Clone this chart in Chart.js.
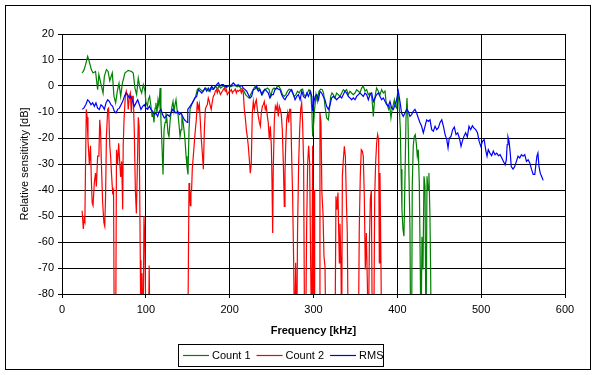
<!DOCTYPE html>
<html>
<head>
<meta charset="utf-8">
<script src="https://cdn.jsdelivr.net/npm/chart.js@4.4.1/dist/chart.umd.min.js"></script>
<style>
html,body{margin:0;padding:0;background:#fff;}
#wrap{width:594px;height:375px;position:relative;}
</style>
</head>
<body>
<div id="wrap"><canvas id="c" width="594" height="375"></canvas></div>
<script>
// ---- DATA ----
const seriesNames = ["Count 1", "Count 2", "RMS"];
const xTickStep = 100;   // kHz
const yTickStep = 10;    // dB

// Count 1 (green)
const count1Freq = [24,26,28,30.6,32,35,37,40,42.5,44,47,49,50.5,53,55,57,60,62,64,66,68,70,72,75,79,83,85,87,89,91,93,95,97,99,100,101.8,103,104.5,105.8,107.4,108.5,109.7,111,112,113.3,114.5,115.7,117,118,119.3,120.5,121.7,123,124,125.2,126.4,127.6,128.8,130,131.2,132.4,133.6,134.8,136,137.2,138.4,139.6,140.8,142,143,144.3,145.5,146.7,148,149.1,150.3,151.5,152.7,155.5,157.5,159.4,161.4,163.4,165.4,167.4,169.4,171.4,173.4,175.3,177.3,179.3,181.3,183.3,185.3,187.3,189.2,191.2,193.2,195.2,197.2,199.2,201.2,203.2,205.1,207.1,209.1,211.1,213,215,217,219,221,223,225,227,229,231,233,235,237,239,241,243,245,247,249,251,253,255,257,259,261,263,265,267,269,271,273,275,277,279,281,283,285,287,288.6,290.6,292.6,294.6,296.6,298,299,300,301,303,304.5,306.5,308.5,310.5,312,313.7,315.7,317.7,319,320.5,322,323.6,325.6,327.6,329.6,331.6,333.6,335.6,337.5,339.5,341.5,343.5,345.5,347.5,349.5,351.5,353.5,355.4,357.4,359.4,361.4,363.4,365.4,367.4,369.4,370.5,371.3,372.7,374.1,375.3,377.3,379.3,381.3,383.3,385.3,386.5,388,389.6,391,392.4,393.8,395.2,396.4,397.6,399.2,400.4,401.6,402.4,403.6,404.4,405.5,406.7,407.9,409.1,410.3,411.5,412.7,413.9,415.1,415.9,417,417.8,419,420.2,421.4,422.6,423.8,425,426.2,427.4,428.2,429.4,430.6,431.8,433,434.2,435.4,436.6,437.7,438.9,439.7,440.5];
const count1Db = [5,6,8,11.4,10,6.3,5,5.6,-1.4,4.4,0,-2.7,3.7,6.3,5.6,2,5,-4,-6.5,-2,1,-4,1,5,6,5.6,5,-0.8,-3.3,3,-0.8,-2.7,0.5,-2,-6,-7.8,-5.3,-4,-7,-11.7,-10.4,-14,-8.5,-6.5,-10.4,-5.3,-7.8,-0.8,-13,-23.2,-34,-16.8,-14,-10.4,-13,-18,-19.4,-14,-10.4,-7.8,-6,-9.7,-7.2,-5.3,-9,-11,-14.9,-19.4,-16.8,-11.7,-13.6,-16.8,-20.6,-27,-31,-34,-17,-9,-6.5,-5.3,-4,-1.4,-0.8,-1.4,-2,-1.4,-0.8,-1.4,-2,-0.8,-1.4,-1.2,0,-1.2,0,-0.8,-0.3,0,-0.8,-0.3,0,-0.3,0,0.2,0,-0.3,0,-0.8,-1.2,-2,-3.3,-4,-4.6,-3.3,-2,-0.8,0,-1.4,-0.8,-2,-3.3,-2,-1.2,-0.8,-1.4,-4,-1.4,-0.8,-1.2,0,-0.3,-1.4,-3.3,-4,-3.3,-2,-1.2,-1.4,-2.7,-4,-3.3,-2,-2.7,-1.4,-1.2,-3.3,-4,-2.7,-1.4,-2,-9,-19.4,-15.5,-10,-3.3,-5.9,-2,-1.2,-1.4,-2.7,-7.8,-12.3,-13,-9,-4,-2.7,-3.3,-4.6,-2.7,-3.3,-4,-2.7,-1.4,-2,-1.4,-3.3,-2,-2.7,-3.3,-2.7,-1.4,-2,-2.7,-0.8,0,-2,-1.4,-3.3,-2.7,-4,-7.8,-11.7,-5.9,-2.7,-0.8,-2,-3.3,-1.4,-2.7,-2,-6,-7.2,-9,-7.8,-12.3,-9,-7.2,-5.3,-7.8,-8.5,-2,-5.3,-9,-16.8,-32,-47.6,-55,-57.8,-36,-13,-4.6,-13,-34.7,-55,-100,-100,-38.6,-23,-19.4,-18.7,-22,-27,-24.5,-37.3,-70.6,-100,-58,-70.6,-34.7,-38.6,-100,-34.7,-40,-33.5,-50,-70.6,-100];

// Count 2 (red)  (-100 = below the axis floor)
const count2Freq = [24,25.4,26.5,27.3,28,29,30,31,32.6,34,35,36,37,38.6,40,41,42.5,44,45,46,47,48.5,50,51,52,53,54.5,55.6,57,58,59,60.4,61.5,62.4,64,65,66.3,67.6,68.8,70,71.2,72.4,73,74,75.5,76.7,78,79,80.3,81.5,82.7,83.9,85,86.2,87.5,88.7,90,91,92,93.4,94.2,95.4,96.6,97.8,99,100.2,103,104,105,150,151.5,152.3,153,153.8,154.6,155.4,156.6,157.8,159,160.2,161.4,162.6,163.8,165,166.2,167.4,168.6,169.8,171,172.2,173.3,174.5,175.7,177,178,179.3,180.5,181.7,182.9,184.1,185.3,186.5,187.7,189,190,191.2,192.4,193.6,194.8,196,197.2,198.4,199.6,200.8,202,203.2,204.4,205.6,206.7,208,209.1,210.3,211.5,212.7,213.9,215.1,216.3,217.5,218.7,219.9,221,222.2,223.4,224.6,225.8,227,228.2,229.4,230.6,231.8,233,234.2,235.4,236.6,237.7,239,240.1,241.3,242.5,243.7,245,246,247.3,248.5,249.7,250.5,251.3,252,253.3,254.5,255.7,256.8,258,259.2,260.4,261.6,262.8,264,265.2,266,266.8,268,269.2,270.4,271.5,272.8,274,275.1,276.3,277.5,278.7,280,281,282.3,283.5,284.7,285.9,287,288.2,289.4,290.6,291.8,293,294.2,295.4,296.6,297.8,299,299.8,300.6,301.4,307,307.7,308.9,310,311.3,312.5,313.7,314.9,325.6,326.8,328,329.2,330,330.8,331.6,332.8,333.6,334.4,335.6,336.8,338,339.1,340.3,341.5,353.5,354.6,355.8,357,358.2,359.4,360.6,361.8,363,364.2,365.4,366.6,367.8,369,370.2,371.8,373,374.1,375.3,376.5,377.7,378.5,379.3,380.5,381.3];
const count2Db = [-48,-55,-51,-52,-32,-9,-12,-21,-30,-23,-36,-45,-46,-37,-33.5,-38.6,-27,-27,-13,-17,-30,-45,-52.7,-54,-42,-19.4,-9,-8.5,-23,-27,-33.5,-41,-40,-100,-100,-24.5,-30,-22,-29,-35,-29,-47.5,-23,-13,-4,-2,-4,-9,-4,-2.7,-10.4,-4,-4,-17,-40,-49,-29.6,-12,-15.5,-67,-100,-72,-100,-50,-62,-100,-100,-69,-100,-100,-37.3,-41,-46,-41,-40,-32,-27,-22,-17,-13,-6,-9,-7,-13.6,-20.6,-25.8,-32,-17,-9,-7.8,-7.2,-4.6,-5.9,-7.8,-9,-6,-4,-3.3,-2,-1.4,-2.7,-1.4,-2,-3.3,-2.7,-2,-1.4,-0.8,-2,-1.4,-3.3,-2.7,-2,-2,-1.4,-2.7,-2,-1.7,-1.2,-2.7,-1.7,-2,-1.7,-1.4,-2.7,-1.4,-2.7,-9,-12.3,-16.8,-19.4,-23,-28,-33.5,-29.6,-10.4,-6,-9,-6.5,-5.3,-9,-11.7,-14,-15.5,-10.4,-7.8,-7.2,-6,-9,-7.8,-11.7,-14,-20.6,-15.5,-23,-37,-56.5,-32,-13,-7.8,-9,-7.2,-11.7,-7.8,-9,-11,-16.8,-29.6,-46.3,-33.5,-23,-13,-10.4,-14,-9,-9,-28,-42.4,-66.8,-100,-68,-100,-55,-29.6,-16.8,-9,-6.5,-14,-29.6,-100,-100,-55,-30,-23,-29.6,-68,-100,-23,-100,-40,-100,-100,-10.4,-14,-41,-48.8,-65.5,-69.4,-100,-100,-42.4,-47.6,-41,-55,-68,-53,-69.4,-100,-34.7,-28.3,-23.2,-27,-42.4,-56.5,-100,-100,-55,-34.7,-24.5,-25,-27,-42.4,-70.6,-56.5,-75,-100,-62,-43.7,-40,-100,-100,-42.4,-29.6,-22,-18.7,-20.6,-68,-33.5,-69.4,-100];

// RMS (blue)
const rmsFreq = [24,26,28.6,30.6,32.6,34.6,36.6,38.6,40.5,42.5,44.5,46.5,48.5,50.5,52.5,54.5,56.4,58.4,60.4,62.4,64.4,66.4,68.4,70.4,72.4,74.4,76.3,78.3,80.3,82.3,84.3,86.3,88.3,90.3,92.3,94.2,96.2,98.2,100.2,102.2,104.2,106.2,108.2,110.1,112.1,114.1,116.1,118.1,120,122,124,126,128,130,132,134,136,138,140,142,144,146,148,149.5,150,152.7,155.5,158.6,160.6,162.6,164.6,166.6,168.6,170.6,172.6,174.5,176.5,178.5,180.5,182.5,184.5,186.5,188.5,190.4,192.4,194.4,196.4,198.4,200.4,202.4,204.4,206.3,208.3,210.3,212.3,214.3,216.3,218.3,220.3,222.2,224.2,226.2,228.2,230.2,232.2,234.2,236.1,238.1,240.1,242.1,244.1,246.1,248,250,252,254,256,258,260,262,264,266,268,270,272,274,276,278,280,282,284,286,288,290,292,294,296,298,299,300.6,302,304,306,307.7,309.7,311.7,313.7,315.7,317.7,319.7,321.6,323.6,325.6,327.6,329.6,331.6,333.6,335.6,337.5,339.5,341.5,343.5,345.5,347.5,349.5,351.5,353.5,355.4,357.4,359.4,361.4,363.4,365.4,367.4,369.4,371.3,373.3,375.3,377.3,379.3,381.3,383.3,385.3,387.3,389.3,391.2,393.2,395.2,397.2,399.2,401.2,403.1,405.1,407.1,409.1,411.1,413,415,417,419,421,423,425,427,429,431,433,435,437,439,441,443,445,447,449,451,453,455,457,459,460.5,462,464,466,468,470,472,474,476,477.5,479.4,481.5,483.5,485.5,487.5,489.5,491.5,493.5,495.6,497.6,499.6,501.6,503.6,505.6,507,508.5,510.5,512.5,514.5,516.5,518.5,520.6,522.6,524.6,526.6,528.6,530,531,532,533.3,534.7,535.9,538,540,542,544,546,548,550,552,554,556,558,560,562,564,565,566.5,567.7,569,570.5,572,574];
const rmsDb = [-9,-8.5,-7,-5.3,-6,-7.2,-6.5,-7.8,-6.5,-8.5,-9,-7.2,-7.8,-9,-6.5,-5.3,-5.9,-7.2,-7.8,-9.7,-10.4,-9,-8.5,-7.2,-5.9,-4,-2.7,-3.3,-4.6,-4,-5.9,-7.8,-6.5,-5.3,-7.2,-9,-7.8,-7.2,-8.5,-9,-7.8,-9,-9.7,-11,-10.4,-11.7,-9.7,-9,-11,-12.3,-11.7,-11,-11.7,-10.4,-9,-9.7,-10.4,-9.7,-11,-10.4,-11.7,-13,-13.6,-14,-9,-7.8,-6.5,-4.6,-4,-1.4,-2,-2.7,-2,-0.8,-2,-0.8,-2,0,-1.2,-0.3,0.5,1.2,0,0.5,0.5,-0.1,-0.3,0.2,0,0.5,1.2,0.5,0.2,0.5,-0.1,0.2,-0.8,-1.4,-2,-3.3,-4.6,-4,-1.4,-1.2,0,-2,-1.4,-3.3,-2,-1.2,-2,-2.7,-4.6,-3.3,-3.3,-1.4,-0.8,-1.2,-1.4,-3.3,-4.6,-5.3,-4,-3.3,-2,-1.4,-3.3,-5.3,-4,-3.3,-5.3,-2,-4,-4.6,-2.7,-4,-2,-4,-9.7,-5.9,-4,-3.3,-5.3,-2,-2.7,-4,-5.3,-7.8,-9,-7.2,-4.6,-4,-4.6,-5.3,-4.6,-4,-4.6,-3.3,-2,-2.7,-4,-4.6,-5.3,-4.6,-5.3,-4,-3.3,-2.7,-3.3,-4,-2.7,-3.3,-5.3,-3.3,-2.7,-6,-4.6,-3.3,-2.7,-4,-5.3,-4.6,-5.9,-7.2,-7.8,-5.9,-8.5,-9,-7.2,-5.3,-2,-5.9,-10.4,-11.7,-10.4,-9,-9.7,-11.7,-11,-9.7,-9,-10.4,-12.3,-14,-15.5,-18,-15.5,-13,-13.6,-13,-16.8,-17.4,-15.5,-16.8,-16,-14,-13,-15.5,-18.7,-20.6,-23.8,-20,-19.4,-16.8,-15.8,-18.7,-18,-20,-23.2,-21.3,-19.4,-18,-19.6,-15.5,-16.8,-15.3,-16.2,-16.8,-18,-21.3,-23.2,-21.3,-20.6,-25,-27,-24.5,-25.8,-26.8,-25,-26.4,-25.8,-26.8,-26.4,-27.7,-29,-30.3,-28.4,-22.6,-19.6,-21.3,-25.8,-31,-32,-31,-29,-27,-27.7,-26.4,-27,-26.4,-29,-28.4,-29.6,-32,-34,-34,-31,-27,-25.8,-31,-33.5,-34.7,-36.3];

const seriesFreq = [count1Freq, count2Freq, rmsFreq];
const seriesDb = [count1Db, count2Db, rmsDb];
const seriesColors = ["#008000", "#ff0000", "#0000ff"];

// ---- CHART ----
const FONT = "'Liberation Sans', Arial, sans-serif";

const frame = {
  id: 'frame',
  beforeDraw(chart) {
    const ctx = chart.ctx;
    ctx.save();
    ctx.fillStyle = '#fff';
    ctx.fillRect(0, 0, chart.width, chart.height);
    ctx.strokeStyle = '#000';
    ctx.lineWidth = 1;
    ctx.strokeRect(5.5, 5.5, 585, 364);
    ctx.restore();
  },
  afterDraw(chart) {
    const ctx = chart.ctx;
    ctx.save();
    ctx.strokeStyle = '#000';
    ctx.lineWidth = 1;
    ctx.strokeRect(178.5, 344.5, 205, 22);
    ctx.font = '11px ' + FONT;
    ctx.textBaseline = 'middle';
    ctx.fillStyle = '#000';
    let x = 183;
    const y = 355.5;
    chart.data.datasets.forEach(ds => {
      ctx.strokeStyle = ds.borderColor;
      ctx.lineWidth = 1.2;
      ctx.beginPath();
      ctx.moveTo(x, y);
      ctx.lineTo(x + 26, y);
      ctx.stroke();
      x += 29;
      ctx.fillText(ds.label, x, y + 0.5);
      x += ctx.measureText(ds.label).width + 6;
    });
    ctx.restore();
  }
};

new Chart(document.getElementById('c'), {
  type: 'line',
  data: {
    datasets: seriesNames.map((name, i) => ({
      label: name,
      data: seriesFreq[i].map((f, j) => ({x: f, y: seriesDb[i][j]})),
      borderColor: seriesColors[i],
      backgroundColor: seriesColors[i],
      borderWidth: 1.2,
      pointRadius: 0,
      tension: 0,
      fill: false,
      order: 3 - i
    }))
  },
  options: {
    responsive: false,
    animation: false,
    devicePixelRatio: 1,
    layout: { padding: { left: 0, top: 34, right: 29, bottom: 35 } },
    plugins: { legend: { display: false }, tooltip: { enabled: false } },
    scales: {
      x: {
        type: 'linear',
        min: 0, max: 600,
        ticks: { stepSize: xTickStep, color: '#000', font: { family: FONT, size: 11 }, padding: 5, maxRotation: 0 },
        grid: { color: '#000', lineWidth: 1, tickLength: 4 },
        border: { color: '#000', width: 1 },
        title: { display: true, text: 'Frequency [kHz]', color: '#000', font: { family: FONT, size: 11, weight: 'bold' }, padding: { top: 0, bottom: 2 } },
        afterFit(scale) { scale.height = 46; }
      },
      y: {
        min: -80, max: 20,
        ticks: { stepSize: yTickStep, color: '#000', font: { family: FONT, size: 11 }, padding: 4 },
        grid: { color: '#000', lineWidth: 1, tickLength: 4 },
        border: { color: '#000', width: 1 },
        title: { display: true, text: 'Relative sensitivity [dB]', color: '#000', font: { family: FONT, size: 11 }, padding: { top: 18.5, bottom: 0 } },
        afterFit(scale) { scale.width = 62; }
      }
    }
  },
  plugins: [frame]
});
</script>
</body>
</html>
